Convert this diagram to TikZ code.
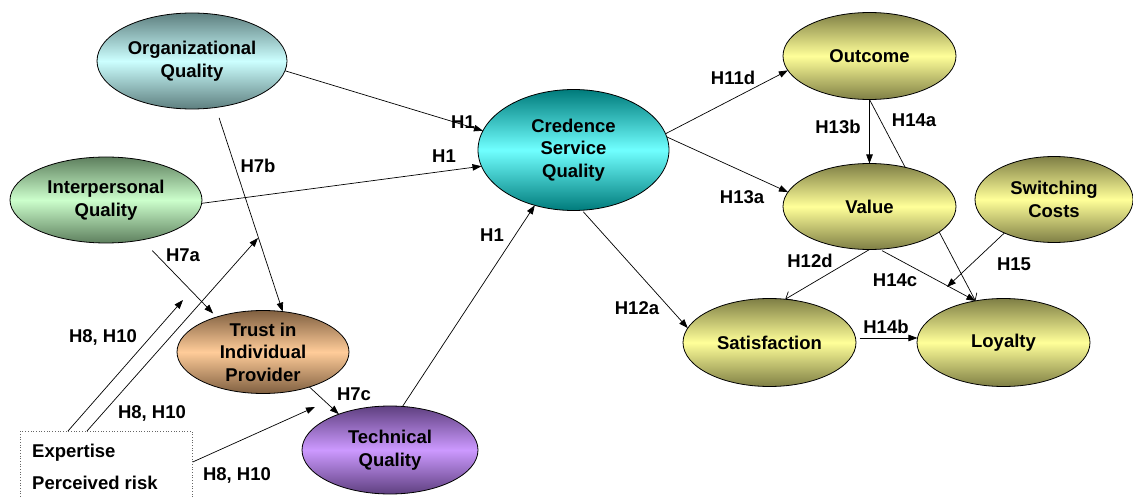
\documentclass[tikz,border=0pt]{standalone}
\usepackage{fontspec}
\setmainfont{Liberation Sans}
\usetikzlibrary{shapes.geometric,arrows.meta,backgrounds,calc}

\definecolor{orgL}{HTML}{CCFFFF}\definecolor{orgD}{HTML}{5E7F7F}
\definecolor{intL}{HTML}{CCFFCC}\definecolor{intD}{HTML}{5E7F5E}
\definecolor{truL}{HTML}{FFCC99}\definecolor{truD}{HTML}{7F5F40}
\definecolor{tecL}{HTML}{CC99FF}\definecolor{tecD}{HTML}{5F4080}
\definecolor{csqL}{HTML}{70FFFF}\definecolor{csqD}{HTML}{007B7B}
\definecolor{yelL}{HTML}{FFFF99}\definecolor{yelD}{HTML}{7F7F45}

\tikzset{
  oval/.style n args={4}{ellipse, draw=black, line width=0.8pt,
    inner sep=-4pt, outer sep=0pt, align=center,
    minimum width=#1, minimum height=#2,
    top color=#3, bottom color=#3, middle color=#4},
  arr/.style={-{Triangle[length=9pt,width=6.5pt]}, line width=0.7pt},
  openarr/.style={-{Straight Barb[length=6pt,width=10pt]}, line width=0.7pt},
  lbl/.style={inner sep=0pt},
  modbox/.style={draw=black!60, dotted, line width=0.7pt, inner sep=0pt,
    minimum width=172pt, minimum height=80pt, anchor=north west}
}

\begin{document}
\begin{tikzpicture}[x=1pt,y=-1pt,
  font=\fontsize{18.5}{22.5}\selectfont\bfseries]
\useasboundingbox (0,0) rectangle (1133,497);

% constructs
\node[oval={190pt}{96pt}{orgD}{orgL}] (org) at (192,61) {Organizational\\Quality};
\node[oval={192pt}{86pt}{intD}{intL}] (ipq) at (106,200) {Interpersonal\\Quality};
\node[oval={172pt}{83pt}{truD}{truL}] (trust) at (263,352) {Trust in\\Individual\\Provider};
\node[oval={176pt}{88pt}{tecD}{tecL}] (tech) at (390,450) {Technical\\Quality};
\node[oval={191pt}{121pt}{csqD}{csqL}] (csq) at (573.5,150) {Credence\\Service\\Quality};
\node[oval={173pt}{87pt}{yelD}{yelL}] (out) at (869.5,56) {Outcome};
\node[oval={173pt}{86pt}{yelD}{yelL}] (val) at (869.5,206.5) {Value};
\node[oval={158pt}{86pt}{yelD}{yelL}] (sw) at (1054,199.5) {Switching\\Costs};
\node[oval={173pt}{88pt}{yelD}{yelL}] (sat) at (769.5,342.5) {Satisfaction};
\node[oval={173pt}{88pt}{yelD}{yelL}] (loy) at (1003.5,342.5) {Loyalty};

% moderator box
\node[modbox] (box) at (20,431) {};
\node[lbl, anchor=base west] (expt) at (32,457) {Expertise};
\node[lbl, anchor=base west] (risk) at (32,489) {Perceived risk};

% ends of the moderating arrows
\coordinate (m7a) at (183,300);
\coordinate (m7b) at (258,238);
\coordinate (m7c) at (315,407);
\coordinate (m14c) at (947,287);

\begin{scope}[on background layer]
  \draw[arr] (org.354) -- (csq.168);
  \draw[arr] (ipq.358) -- (csq.190);
  \draw[arr] (tech.74) -- (csq.235);
  \draw[arr, shorten <=11pt] (org.297) -- (trust.64);
  \draw[arr, shorten <=15pt, shorten >=5pt] (ipq.312) -- (trust.143);
  \draw[arr] (trust.323) -- (tech.145);
  \draw[arr] ($(box.north west)+(48,0)$) -- (m7a);
  \draw[arr] ($(box.north west)+(67,0)$) -- (m7b);
  \draw[arr] ($(box.north east)+(0,31)$) -- (m7c);

  \draw[arr] (csq.10) -- (out.190);
  \draw[arr] (csq.8) -- (val.170);
  \draw[arr, shorten <=2pt] (csq.278) -- (sat.170);
  \draw[arr] (out.south) -- (val.north);
  \draw[openarr] (out.south) -- (loy.124);
  \draw[openarr] (val.south) -- (sat.70);
  \draw[arr, shorten <=3pt] (val.283) -- (loy.124);
  \draw[arr] (sw.214) -- (m14c);
  \draw[arr, shorten <=4pt] (sat.3) -- (loy.177);
\end{scope}

% path labels
\node[lbl] (h1a) at (463,122) {H1};
\node[lbl] (h1b) at (444,156) {H1};
\node[lbl] (h1c) at (492,235) {H1};
\node[lbl] (h7b) at (258,166) {H7b};
\node[lbl] (h7a) at (183,255) {H7a};
\node[lbl] (h8a) at (103,337) {H8, H10};
\node[lbl] (h8b) at (152,413) {H8, H10};
\node[lbl] (h8c) at (237,475) {H8, H10};
\node[lbl] (h7c) at (354,394) {H7c};
\node[lbl] (h12a) at (637,308) {H12a};
\node[lbl] (h11d) at (733,78) {H11d};
\node[lbl] (h13a) at (742,197) {H13a};
\node[lbl] (h13b) at (838,127) {H13b};
\node[lbl] (h14a) at (914,120) {H14a};
\node[lbl] (h12d) at (810,261) {H12d};
\node[lbl] (h14c) at (895,280) {H14c};
\node[lbl] (h15) at (1014,264) {H15};
\node[lbl] (h14b) at (886,327) {H14b};
\end{tikzpicture}
\end{document}
